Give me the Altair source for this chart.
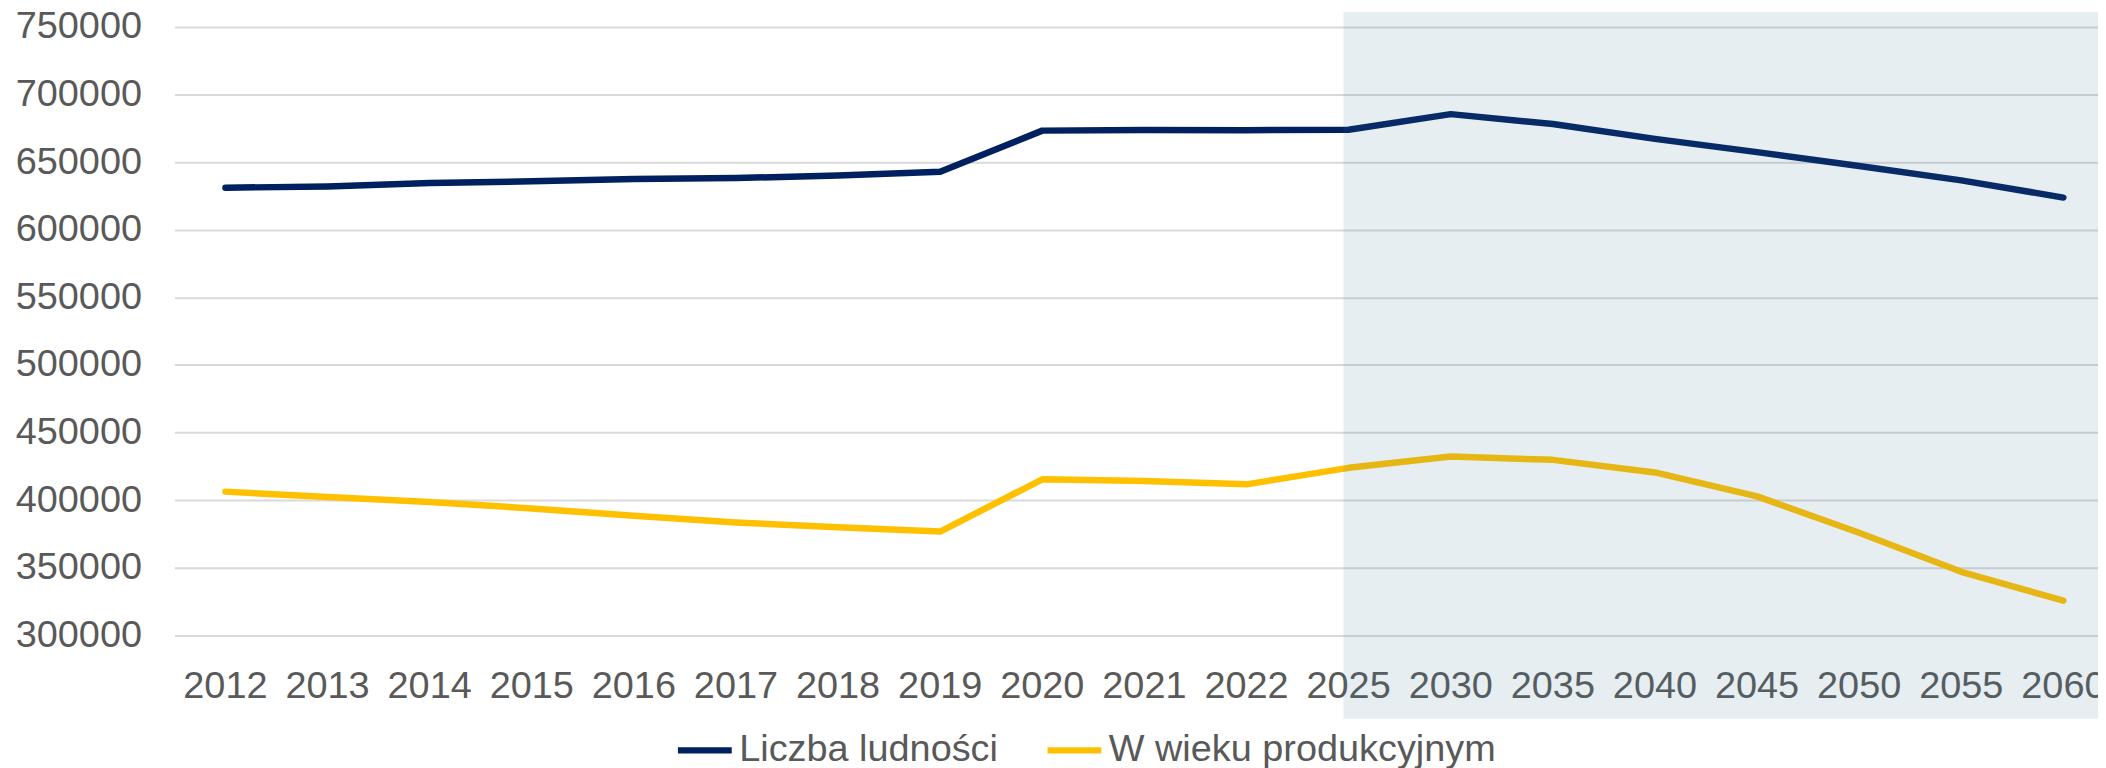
import altair as alt
import pandas as pd

years = ["2012", "2013", "2014", "2015", "2016", "2017", "2018", "2019", "2020",
         "2021", "2022", "2025", "2030", "2035", "2040", "2045", "2050", "2055", "2060"]
total_population = [631100, 632000, 634500, 635800, 637500, 638200, 640200, 642900, 673300,
                    673800, 673600, 674000, 685500, 678200, 667200, 657400, 647100, 636500, 623800]
working_age = [406400, 402400, 398800, 394000, 388600, 383600, 380000, 376900, 415500,
               414200, 411800, 424000, 432400, 429900, 420600, 402900, 376000, 347100, 325800]
series_names = ["Liczba ludności", "W wieku produkcyjnym"]
series_colors = ["#002060", "#FFC000"]
y_ticks = [300000, 350000, 400000, 450000, 500000, 550000, 600000, 650000, 700000, 750000]
forecast_start = "2025"
forecast_end = "2060"

df = pd.DataFrame({
    "year": years * 2,
    "value": total_population + working_age,
    "series": [series_names[0]] * len(years) + [series_names[1]] * len(years),
})

FONT = "Liberation Sans"
FS = 38
TXT = "#595959"

x_scale = alt.Scale(type="band", domain=years, range=[0, 1947.5],
                    paddingInner=0, paddingOuter=0)
y_scale = alt.Scale(domain=[300000, 750000], nice=False, zero=False)

lines = alt.Chart(df).mark_line(
    strokeWidth=6.5, strokeCap="round", strokeJoin="round"
).encode(
    x=alt.X("year:O", scale=x_scale, sort=years,
            axis=alt.Axis(title=None, labelAngle=0, ticks=False, domain=False, grid=False,
                          labelPadding=32, labelFontSize=FS, labelColor=TXT,
                          labelFont=FONT, labelOverlap=False)),
    y=alt.Y("value:Q", scale=y_scale,
            axis=alt.Axis(title=None, values=y_ticks, format="d", ticks=False, domain=False,
                          grid=True, gridColor="#D9D9D9", gridWidth=2,
                          labelPadding=33, labelFontSize=FS, labelColor=TXT, labelFont=FONT)),
    color=alt.Color("series:N",
                    scale=alt.Scale(domain=series_names, range=series_colors),
                    legend=alt.Legend(title=None, orient="none", direction="horizontal",
                                      legendX=502, legendY=695.5, symbolType="stroke",
                                      symbolSize=2916, symbolStrokeWidth=6.5,
                                      labelFontSize=FS, labelColor=TXT, labelFont=FONT,
                                      labelLimit=1000, labelOffset=4, columnPadding=36,
                                      padding=0)),
)

shade = alt.Chart(pd.DataFrame({"start": [forecast_start]})).mark_rect(
    color="#3F7C9B", opacity=0.13
).encode(
    x=alt.X(datum=forecast_start, type="ordinal", bandPosition=0.45),
    x2=alt.X2(datum=forecast_end, bandPosition=1),
    y=alt.Y(datum=761000, type="quantitative"),
    y2=alt.Y2(datum=238500),
)

chart = alt.layer(lines, shade).properties(
    width=1931, height=611,
    padding={"left": 167, "top": 17.5, "right": 0, "bottom": 131.5},
    autosize=alt.AutoSizeParams(type="none"),
    background="white",
).configure_view(stroke=None)

chart.save("out.html", embed_options={"renderer": "svg", "actions": False})
